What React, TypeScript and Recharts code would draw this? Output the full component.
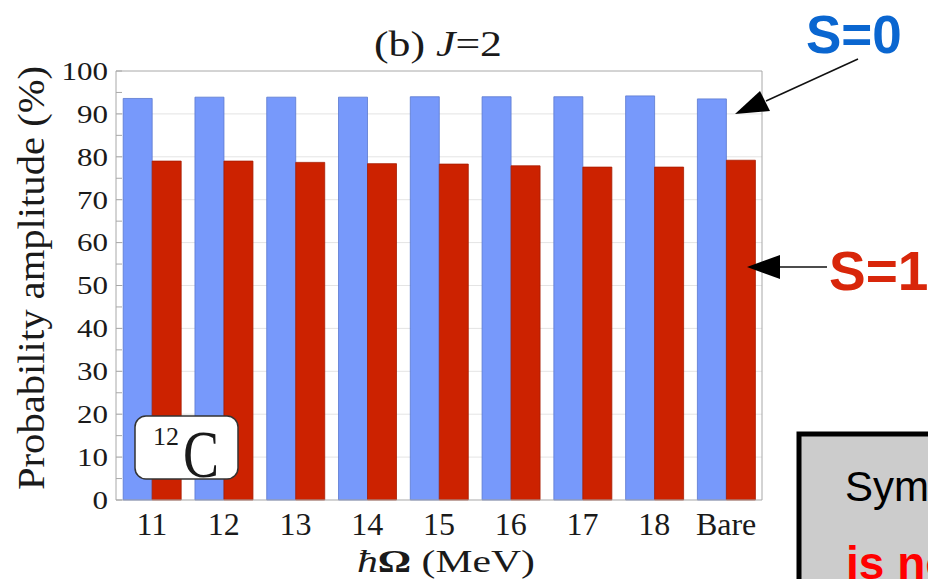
import React from 'react';
import { BarChart, Bar, XAxis, YAxis, CartesianGrid, ReferenceLine } from 'recharts';

// ħΩ values (MeV) plus the bare interaction
const categories = ['11', '12', '13', '14', '15', '16', '17', '18', 'Bare'];
// probability amplitude (%) of the S=0 and S=1 components, J=2
const s0Values = [93.6, 93.9, 93.9, 93.9, 94.0, 94.0, 94.0, 94.2, 93.5];
const s1Values = [79.0, 79.0, 78.7, 78.4, 78.3, 77.9, 77.6, 77.6, 79.2];

const yTicks = [0, 5, 10, 15, 20, 25, 30, 35, 40, 45, 50, 55, 60, 65, 70, 75, 80, 85, 90, 95, 100];
const gridValues = [10, 20, 30, 40, 50, 60, 70, 80, 90];

const data = categories.map((c, i) => ({ name: c, s0: s0Values[i], s1: s1Values[i] }));

const W = 928;
const H = 579;
const SERIF = '"Liberation Serif", "Times New Roman", serif';
const SANS = '"Liberation Sans", Arial, sans-serif';
const FRAME = '#a8a8a8';
const INK = '#1a1a1a';

// left axis: minor ticks every 5, labels every 10
function LeftTick(props: any) {
  const { x, y, payload } = props;
  const v = payload.value as number;
  const txt = String(v);
  return (
    <g>
      <line x1={x + 8} x2={x + 14} y1={y} y2={y} stroke={FRAME} strokeWidth={1} />
      {v % 10 === 0 && (
        <text
          x={x}
          y={y}
          dy="0.34em"
          textAnchor="end"
          fontFamily={SERIF}
          fontSize={26}
          fill={INK}
          textLength={txt.length * 15.5}
          lengthAdjust="spacingAndGlyphs"
        >
          {txt}
        </text>
      )}
    </g>
  );
}

// right axis only carries the inward minor ticks
function RightTick(props: any) {
  const { x, y } = props;
  return <line x1={x - 6} x2={x} y1={y} y2={y} stroke={FRAME} strokeWidth={1} />;
}

function Overlay() {
  return (
    <svg
      width={W}
      height={H}
      style={{ position: 'absolute', left: 0, top: 0, pointerEvents: 'none' }}
    >
      {/* panel title */}
      <text
        x={438}
        y={56}
        textAnchor="middle"
        fontFamily={SERIF}
        fontSize={35}
        fill={INK}
        textLength={128}
        lengthAdjust="spacingAndGlyphs"
      >
        (b) <tspan fontStyle="italic">J</tspan>=2
      </text>

      {/* axis titles */}
      <text
        transform="translate(44,278) rotate(-90)"
        textAnchor="middle"
        fontFamily={SERIF}
        fontSize={37}
        fill={INK}
        textLength={424}
        lengthAdjust="spacingAndGlyphs"
      >
        Probability amplitude (%)
      </text>
      <text
        x={446}
        y={572}
        textAnchor="middle"
        fontFamily={SERIF}
        fontSize={32}
        fill={INK}
        textLength={178}
        lengthAdjust="spacingAndGlyphs"
      >
        <tspan fontStyle="italic">ħ</tspan>
        <tspan fontWeight="bold">Ω</tspan> (MeV)
      </text>

      {/* nucleus tag */}
      <rect x={135} y={416} width={103} height={63} rx={11} fill="#fff" stroke="#333" strokeWidth={1.5} />
      <text x={153} y={445} fontFamily={SERIF} fontSize={26} fill={INK}>
        12
      </text>
      <text
        x={183}
        y={477}
        fontFamily={SERIF}
        fontSize={68}
        fill={INK}
        textLength={36}
        lengthAdjust="spacingAndGlyphs"
      >
        C
      </text>

      {/* S=0 pointer */}
      <text x={806} y={53} fontFamily={SANS} fontWeight="bold" fontSize={53} fill="#0a66d0">
        S=0
      </text>
      <line x1={858} y1={59} x2={766} y2={101} stroke="#111" strokeWidth={1.5} />
      <polygon points="735,114 760,91 770,111" fill="#000" />

      {/* S=1 pointer */}
      <text x={829} y={290} fontFamily={SANS} fontWeight="bold" fontSize={55} fill="#d8260a">
        S=1
      </text>
      <line x1={827} y1={267} x2={776} y2={267} stroke="#111" strokeWidth={1.5} />
      <polygon points="747,267 780,255 780,279" fill="#000" />

      {/* note box running off the edge */}
      <rect x={799} y={434} width={160} height={170} fill="#cccccc" stroke="#000" strokeWidth={5} />
      <text x={845} y={501} fontFamily={SANS} fontSize={42} fill="#000">
        Symmetry
      </text>
      <text x={846} y={579} fontFamily={SANS} fontWeight="bold" fontSize={46} fill="#ff0000">
        is not
      </text>
    </svg>
  );
}

export default function App() {
  return (
    <div
      style={{
        position: 'absolute',
        left: 0,
        top: 0,
        width: W,
        height: H,
        overflow: 'hidden',
        background: '#fff',
      }}
    >
      <BarChart
        width={W}
        height={H}
        data={data}
        margin={{ top: 71, right: 156, bottom: 39, left: 36 }}
        barCategoryGap="10%"
        barGap={0}
      >
        <CartesianGrid horizontalValues={gridValues} vertical={false} stroke="#e4e4e4" strokeWidth={1} />
        <XAxis
          dataKey="name"
          axisLine={{ stroke: FRAME }}
          tickLine={false}
          tickSize={0}
          tickMargin={12}
          height={40}
          interval={0}
          tick={{ fontSize: 32, fill: INK, fontFamily: SERIF }}
        />
        <YAxis
          domain={[0, 100]}
          ticks={yTicks}
          interval={0}
          width={80}
          tickSize={0}
          tickMargin={8}
          tickLine={false}
          axisLine={{ stroke: FRAME }}
          tick={<LeftTick />}
        />
        <YAxis
          yAxisId="right"
          orientation="right"
          domain={[0, 100]}
          ticks={yTicks}
          interval={0}
          width={10}
          tickSize={0}
          tickMargin={0}
          tickLine={false}
          axisLine={{ stroke: FRAME }}
          tick={<RightTick />}
        />
        <ReferenceLine y={100} stroke={FRAME} strokeWidth={1} />
        <Bar dataKey="s0" fill="#7799fb" stroke="#5b78cf" strokeWidth={0.8} isAnimationActive={false} />
        <Bar dataKey="s1" fill="#cc2200" stroke="#a81c00" strokeWidth={0.8} isAnimationActive={false} />
      </BarChart>
      <Overlay />
    </div>
  );
}
